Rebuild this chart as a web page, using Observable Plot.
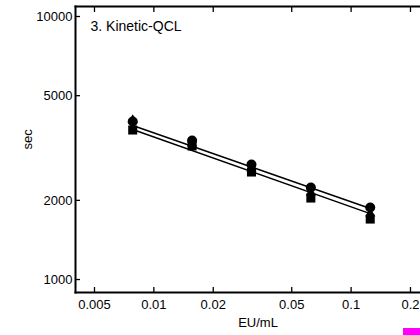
<!DOCTYPE html>
<html><head><meta charset="utf-8">
<script src="https://cdn.jsdelivr.net/npm/d3@7"></script>
<script src="https://cdn.jsdelivr.net/npm/@observablehq/plot@0.6"></script>
<style>
body{margin:0;background:#fff;}
#wrap{position:relative;width:420px;height:335px;overflow:hidden;}
#mark{position:absolute;left:403px;top:328px;width:17px;height:7px;background:#ff00ff;}
</style>
</head><body><div id="wrap"><div id="mark"></div></div>
<script>
const conc = [0.0078125, 0.015625, 0.03125, 0.0625, 0.125];
const circles = [3989, 3378, 2737, 2238, 1878];
const triangles = [4040, 3289, 2642, 2142, 1782];
const squares = [3702, 3219, 2563, 2041, 1698];
const lineX = [0.0078125, 0.125];
const upperLine = [3851, 1862];
const lowerLine = [3718, 1782];
const xTicks = [0.005, 0.01, 0.02, 0.05, 0.1, 0.2];
const yTicks = [1000, 2000, 5000, 10000];
const panelTitle = "3. Kinetic-QCL";

const pts = (ys) => conc.map((x, i) => ({x, y: ys[i]}));
const ln = (ys) => lineX.map((x, i) => ({x, y: ys[i]}));

const chart = Plot.plot({
  width: 420, height: 335,
  marginLeft: 75, marginRight: 0, marginTop: 6, marginBottom: 43,
  style: {fontFamily: "'Liberation Sans', Arial, sans-serif", fontSize: "13px", color: "#000", background: "#fff"},
  x: {type: "log", domain: [0.004006, 0.2248]},
  y: {type: "log", domain: [892.7, 10915]},
  marks: [
    Plot.axisX({anchor: "bottom", ticks: xTicks, tickFormat: d => String(d), tickSize: -5, tickPadding: 12, label: null, strokeWidth: 1.3, fontSize: 13}),
    Plot.axisX({anchor: "top", ticks: xTicks, tickFormat: () => "", tickSize: -5, label: null, strokeWidth: 1.3}),
    Plot.axisY({anchor: "left", ticks: yTicks, tickFormat: d => String(d), tickSize: -5, tickPadding: 8, label: null, strokeWidth: 1.3, fontSize: 13}),
    Plot.frame({anchor: "left", strokeWidth: 2}),
    Plot.frame({anchor: "bottom", strokeWidth: 2}),
    Plot.frame({anchor: "top", strokeWidth: 2}),
    Plot.line(ln(upperLine), {x: "x", y: "y", stroke: "#000", strokeWidth: 1.4}),
    Plot.line(ln(lowerLine), {x: "x", y: "y", stroke: "#000", strokeWidth: 1.4}),
    Plot.dot(pts(squares), {x: "x", y: "y", symbol: "square", r: 5.1, fill: "#000", stroke: "none"}),
    Plot.dot(pts(triangles), {x: "x", y: "y", symbol: "triangle", r: 3.8, fill: "#000", stroke: "none"}),
    Plot.dot(pts(circles), {x: "x", y: "y", symbol: "circle", r: 5, fill: "#000", stroke: "none"}),
    Plot.text([panelTitle], {frameAnchor: "top-left", dx: 15, dy: 15, textAnchor: "start", fontSize: 14, letterSpacing: 0.4}),
    Plot.text(["sec"], {frameAnchor: "left", dx: -48, dy: 0, rotate: -90, fontSize: 13}),
    Plot.text(["EU/mL"], {frameAnchor: "bottom", dx: 10, dy: 34, fontSize: 13})
  ]
});
document.getElementById("wrap").prepend(chart);
</script>
</body></html>
